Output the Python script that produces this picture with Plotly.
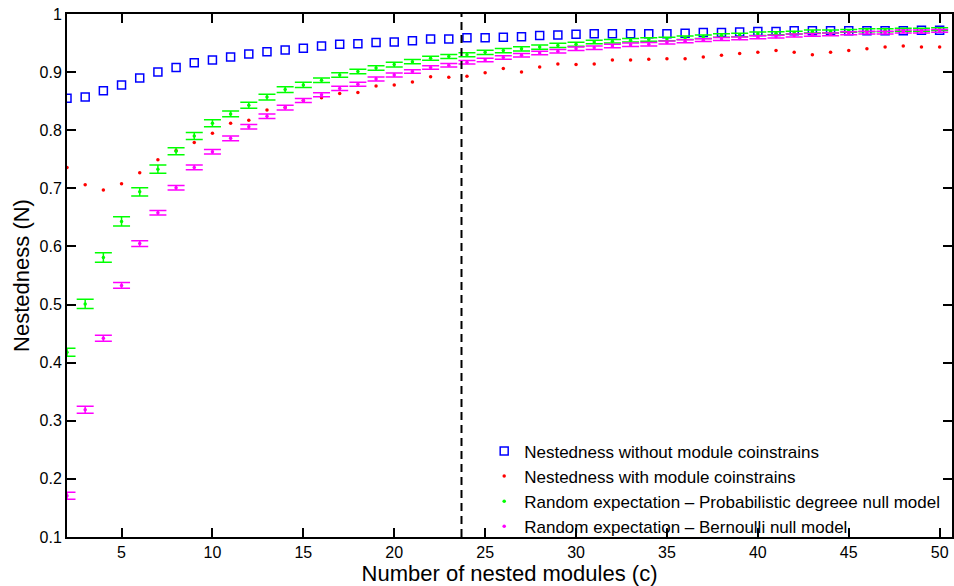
import plotly.graph_objects as go

# Number of nested modules
modules = list(range(2, 51))

# Nestedness without module constraints
nest_free = [0.855, 0.857, 0.868, 0.878, 0.890, 0.900, 0.908, 0.916, 0.921, 0.926,
             0.931, 0.935, 0.938, 0.941, 0.945, 0.948, 0.949, 0.951, 0.952, 0.954,
             0.957, 0.957, 0.959, 0.959, 0.960, 0.961, 0.963, 0.964, 0.965, 0.966,
             0.966, 0.966, 0.966, 0.966, 0.967, 0.968, 0.968, 0.969, 0.970, 0.970,
             0.971, 0.971, 0.971, 0.971, 0.971, 0.971, 0.971, 0.972, 0.972]

# Nestedness with module constraints
nest_mod = [0.736, 0.706, 0.697, 0.708, 0.727, 0.749, 0.765, 0.779, 0.795, 0.812,
            0.817, 0.835, 0.839, 0.851, 0.856, 0.863, 0.865, 0.876, 0.878, 0.883,
            0.892, 0.891, 0.893, 0.899, 0.906, 0.900, 0.909, 0.914, 0.913, 0.914,
            0.921, 0.921, 0.922, 0.923, 0.923, 0.926, 0.929, 0.932, 0.934, 0.937,
            0.934, 0.930, 0.934, 0.937, 0.940, 0.943, 0.945, 0.943, 0.943]

# Random expectation - probabilistic degree null model (mean, error)
prob_mean = [0.418, 0.501, 0.581, 0.643, 0.694, 0.733, 0.764, 0.790, 0.812, 0.828,
             0.843, 0.857, 0.870, 0.878, 0.886, 0.895, 0.901, 0.907, 0.913, 0.918,
             0.924, 0.927, 0.930, 0.934, 0.937, 0.940, 0.943, 0.946, 0.948, 0.952,
             0.953, 0.955, 0.956, 0.957, 0.959, 0.961, 0.963, 0.964, 0.966, 0.967,
             0.968, 0.970, 0.970, 0.971, 0.972, 0.972, 0.973, 0.973, 0.974]
prob_err = [0.007, 0.008, 0.008, 0.008, 0.007, 0.007, 0.006, 0.006, 0.006, 0.005,
            0.005, 0.005, 0.005, 0.0045, 0.004, 0.004, 0.004, 0.004, 0.004, 0.0035,
            0.0035, 0.0035, 0.0035, 0.0035, 0.0035, 0.0035, 0.0035, 0.0035, 0.0035, 0.003,
            0.003, 0.003, 0.003, 0.003, 0.003, 0.003, 0.003, 0.003, 0.003, 0.0025,
            0.0025, 0.0025, 0.0025, 0.0025, 0.0025, 0.0025, 0.0025, 0.0025, 0.0025]

# Random expectation - Bernoulli null model (mean, error)
bern_mean = [0.171, 0.319, 0.442, 0.533, 0.605, 0.658, 0.701, 0.736, 0.763, 0.786,
             0.806, 0.824, 0.839, 0.851, 0.861, 0.872, 0.879, 0.888, 0.895, 0.901,
             0.908, 0.912, 0.917, 0.921, 0.925, 0.929, 0.933, 0.936, 0.940, 0.942,
             0.945, 0.947, 0.948, 0.951, 0.953, 0.955, 0.957, 0.958, 0.960, 0.961,
             0.963, 0.964, 0.965, 0.967, 0.968, 0.968, 0.970, 0.970, 0.971]
bern_err = [0.006, 0.006, 0.005, 0.005, 0.005, 0.004, 0.004, 0.004, 0.004, 0.004,
            0.004, 0.004, 0.004, 0.0035, 0.0035, 0.0035, 0.0035, 0.0035, 0.0035, 0.003,
            0.003, 0.003, 0.003, 0.003, 0.003, 0.003, 0.003, 0.003, 0.003, 0.003,
            0.003, 0.003, 0.003, 0.0025, 0.0025, 0.0025, 0.0025, 0.0025, 0.0025, 0.0025,
            0.0025, 0.0025, 0.0025, 0.0025, 0.0025, 0.0025, 0.0025, 0.0025, 0.0025]

# Threshold number of modules (dashed line)
threshold = 23.7

y_ticks = [0.1, 0.2, 0.3, 0.4, 0.5, 0.6, 0.7, 0.8, 0.9, 1.0]
y_ticktext = ["0.1", "0.2", "0.3", "0.4", "0.5", "0.6", "0.7", "0.8", "0.9", "1"]
x_ticks = [5, 10, 15, 20, 25, 30, 35, 40, 45, 50]

FONT = "Liberation Sans, Arial, Helvetica, sans-serif"

fig = go.Figure()

fig.add_trace(go.Scatter(
    x=modules, y=nest_free, mode="markers",
    name="Nestedness without module coinstrains",
    marker=dict(symbol="square-open", size=8, color="#0000ff",
                line=dict(width=1.5, color="#0000ff")),
))
fig.add_trace(go.Scatter(
    x=modules, y=nest_mod, mode="markers",
    name="Nestedness with module coinstrains",
    marker=dict(symbol="circle", size=3.5, color="#ff0000"),
))
fig.add_trace(go.Scatter(
    x=modules, y=prob_mean, mode="markers",
    name="Random expectation \u2013 Probabilistic degreee null model",
    marker=dict(symbol="circle", size=3.5, color="#00ff00"),
    error_y=dict(type="data", array=prob_err, visible=True,
                 color="#00ff00", thickness=1.5, width=8.5),
))
fig.add_trace(go.Scatter(
    x=modules, y=bern_mean, mode="markers",
    name="Random expectation \u2013 Bernoulli null model",
    marker=dict(symbol="circle", size=3.5, color="#ff00ff"),
    error_y=dict(type="data", array=bern_err, visible=True,
                 color="#ff00ff", thickness=1.5, width=8.5),
))

fig.add_shape(type="line", xref="x", yref="paper",
              x0=threshold, x1=threshold, y0=0, y1=1,
              line=dict(color="black", width=2, dash="8px,5px"),
              layer="above")

axis_common = dict(
    showline=True, linecolor="black", linewidth=2,
    ticks="inside", ticklen=9, tickwidth=2, tickcolor="black",
    mirror="ticks", showgrid=False, zeroline=False,
    tickfont=dict(family=FONT, size=16, color="black"),
)

fig.update_layout(
    width=954, height=586,
    margin=dict(l=67, r=0, t=14, b=49),
    plot_bgcolor="white", paper_bgcolor="white",
    font=dict(family=FONT, color="black"),
    showlegend=True,
    legend=dict(
        x=0.4714, y=0.198, xanchor="left", yanchor="top",
        bgcolor="rgba(255,255,255,0)", borderwidth=0,
        font=dict(family=FONT, size=17, color="black"),
        tracegroupgap=0, itemsizing="trace",
    ),
    xaxis=dict(
        range=[2, 50.68], tickvals=x_ticks,
        title=dict(text="Number of nested modules (c)",
                   font=dict(family=FONT, size=22, color="black"), standoff=0),
        **axis_common,
    ),
    yaxis=dict(
        range=[0.1, 1.0], tickvals=y_ticks, ticktext=y_ticktext,
        title=dict(text="Nestedness (N)",
                   font=dict(family=FONT, size=22, color="black"), standoff=4),
        **axis_common,
    ),
)

fig.write_html("out.html")
